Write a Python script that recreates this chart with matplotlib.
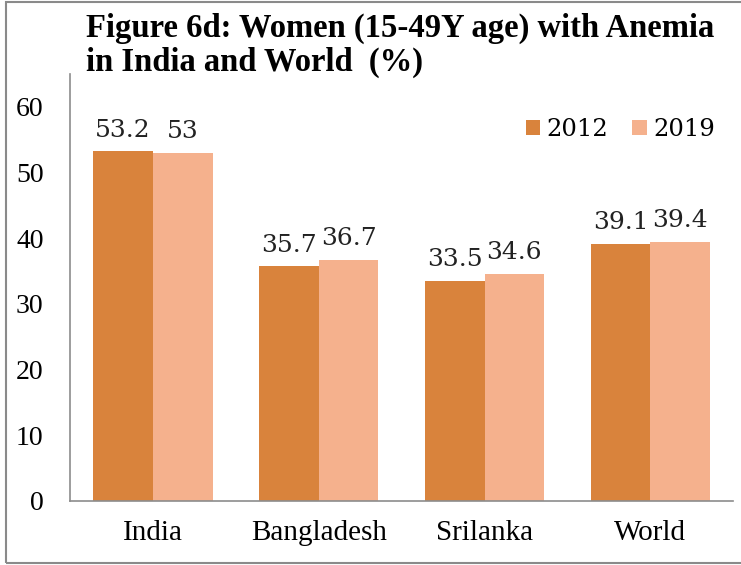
import numpy as np
import matplotlib
matplotlib.use("Agg")
import matplotlib.pyplot as plt
from matplotlib.patches import Rectangle

# data
countries = ["India", "Bangladesh", "Srilanka", "World"]
vals_2012 = [53.2, 35.7, 33.5, 39.1]
vals_2019 = [53.0, 36.7, 34.6, 39.4]
labels_2012 = ["53.2", "35.7", "33.5", "39.1"]
labels_2019 = ["53", "36.7", "34.6", "39.4"]

c2012 = "#D9833C"
c2019 = "#F5B18D"

plt.rcParams["font.family"] = ["Liberation Serif", "DejaVu Serif"]

fig = plt.figure(figsize=(7.41, 5.65), dpi=100)
ax = fig.add_axes([0.0945, 0.1133, 0.895, 0.756])

x = np.arange(len(countries))
w = 0.36
b1 = ax.bar(x - w / 2, vals_2012, w, color=c2012, label="2012")
b2 = ax.bar(x + w / 2, vals_2019, w, color=c2019, label="2019")

for bars, labs in ((b1, labels_2012), (b2, labels_2019)):
    for bar, lab in zip(bars, labs):
        ax.annotate(lab, (bar.get_x() + bar.get_width() / 2, bar.get_height()),
                    xytext=(0, 7), textcoords="offset points",
                    ha="center", va="bottom", fontsize=18,
                    family="DejaVu Serif", color="#222222")

ax.set_xlim(-0.5, 3.5)
ax.set_ylim(0, 65)
ax.set_yticks(range(0, 61, 10))
ax.set_xticks(x)
ax.set_xticklabels(countries, fontsize=21)
ax.tick_params(axis="y", labelsize=20, length=0, pad=19)
ax.tick_params(axis="x", length=0, pad=14)
for s in ("top", "right"):
    ax.spines[s].set_visible(False)
for s in ("left", "bottom"):
    ax.spines[s].set_color("#8c8c8c")
    ax.spines[s].set_linewidth(1.2)

# legend centre sits at about y = 56.5 in data units
ax.legend(loc="center right", bbox_to_anchor=(1.005, 56.5 / 65), ncol=2,
          frameon=False, prop={"family": "DejaVu Serif", "size": 17.5},
          handlelength=0.6, handleheight=0.6, handletextpad=0.25,
          columnspacing=1.0)

fig.text(0.116, 1 - 37 / 565, "Figure 6d: Women (15-49Y age) with Anemia",
         fontsize=23.5, fontweight="bold", va="baseline", ha="left")
fig.text(0.116, 1 - 71 / 565, "in India and World  (%)",
         fontsize=23.5, fontweight="bold", va="baseline", ha="left")

fig.patches.append(Rectangle((6 / 741, 2 / 565), 1.0, 561 / 565,
                             transform=fig.transFigure, fill=False,
                             edgecolor="#8a8a8a", linewidth=1.5))

fig.savefig("out.png", dpi=100)
